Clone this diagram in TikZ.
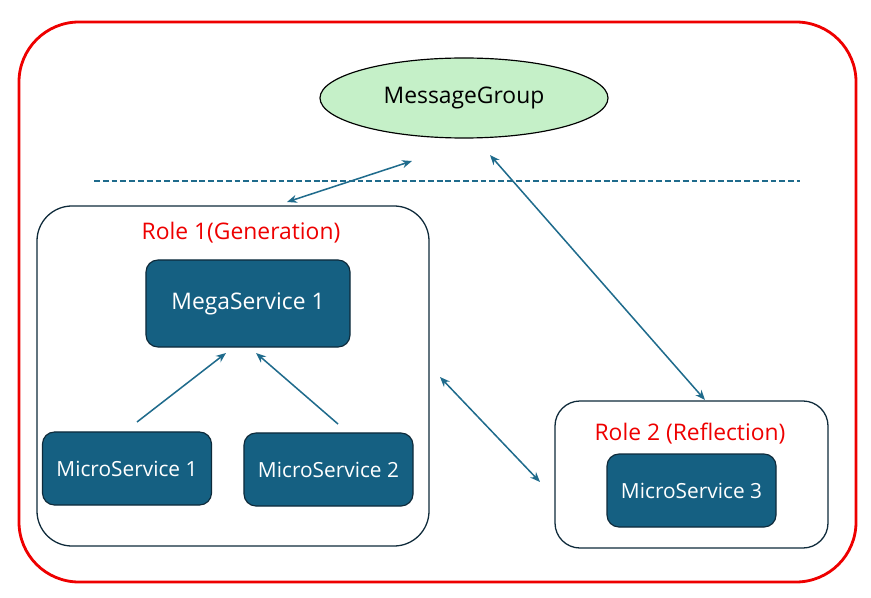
\documentclass[tikz,border=0pt]{standalone}
\usepackage{fontspec}
\setmainfont{Open Sans}
\usetikzlibrary{arrows.meta, shapes.geometric}

\definecolor{svcblue}{HTML}{156082}
\definecolor{edgedark}{HTML}{0E2A3A}
\definecolor{linkblue}{HTML}{1F6B8C}
\definecolor{groupgreen}{HTML}{C5F0C8}
\definecolor{framered}{HTML}{EE0000}

\begin{document}
\begin{tikzpicture}[
    x=0.03cm, y=-0.03cm,
    % Styles
    frame_box/.style={draw=framered, line width=2.4pt, rounded corners=1.8cm, minimum width=25.11cm, minimum height=16.8cm},
    role_box/.style={draw=edgedark, fill=white, line width=1.1pt},
    svc_box/.style={draw=edgedark, fill=svcblue, line width=1pt, rounded corners=0.36cm, text=white, font=\fontsize{17.8}{21}\selectfont, minimum width=5.07cm, minimum height=2.19cm},
    group_node/.style={ellipse, draw=black, fill=groupgreen, line width=1pt, minimum width=8.64cm, minimum height=2.4cm, font=\fontsize{19.5}{23}\selectfont},
    role_title/.style={text=framered, font=\fontsize{19.5}{23}\selectfont},
    link/.style={{Stealth[length=3mm, width=2.4mm]}-{Stealth[length=3mm, width=2.4mm]}, line width=1.3pt, linkblue},
    feed/.style={-{Stealth[length=3mm, width=2.4mm]}, line width=1.3pt, linkblue}
]
    \useasboundingbox (0,0) rectangle (871,598);

    % 1. OUTER FRAME
    \node[frame_box] (frame) at (437.5,302) {};

    % 2. MESSAGE GROUP + DIVIDER
    \node[group_node] (group) at (464,98) {\raisebox{-1.5pt}{MessageGroup}};
    \coordinate (div_l) at (94,181);
    \coordinate (div_r) at (800,181);
    \draw[linkblue, line width=1.4pt, dash pattern=on 5pt off 2.5pt] (div_l) -- (div_r);

    % 3. ROLE 1
    \node[role_box, rounded corners=1.05cm, minimum width=11.76cm, minimum height=10.2cm] (role_one) at (233,376) {};
    \node[role_title] (role_one_title) at (241,233) {Role 1(Generation)};
    \node[svc_box, minimum width=6.12cm, minimum height=2.61cm, font=\fontsize{19.5}{23}\selectfont] (mega) at (248,303.5) {\raisebox{-1.5pt}{MegaService 1}};
    \node[svc_box] (micro_one) at (127,468.5) {MicroService 1};
    \node[svc_box] (micro_two) at (328.5,469.5) {MicroService 2};

    % 4. ROLE 2
    \node[role_box, rounded corners=0.75cm, minimum width=8.19cm, minimum height=4.41cm] (role_two) at (691.5,474.5) {};
    \node[role_title] (role_two_title) at (690,434) {Role 2 (Reflection)};
    \node[svc_box] (micro_three) at (691.5,490.5) {MicroService 3};

    % 5. ARROWS (free ends)
    \coordinate (g_left) at (412,161);
    \coordinate (g_right) at (490,155);
    \coordinate (r1_top) at (287,202);
    \coordinate (r1_side) at (440,377);
    \coordinate (r2_top) at (705,400);
    \coordinate (r2_side) at (540,482);
    \coordinate (m_left) at (226,353);
    \coordinate (m_right) at (256,353);
    \coordinate (u_one) at (137,422);
    \coordinate (u_two) at (338,424);

    \draw[link] (r1_top) -- (g_left);
    \draw[link] (g_right) -- (r2_top);
    \draw[link] (r1_side) -- (r2_side);

    % Micro to Mega
    \draw[feed] (u_one) -- (m_left);
    \draw[feed] (u_two) -- (m_right);

\end{tikzpicture}
\end{document}
